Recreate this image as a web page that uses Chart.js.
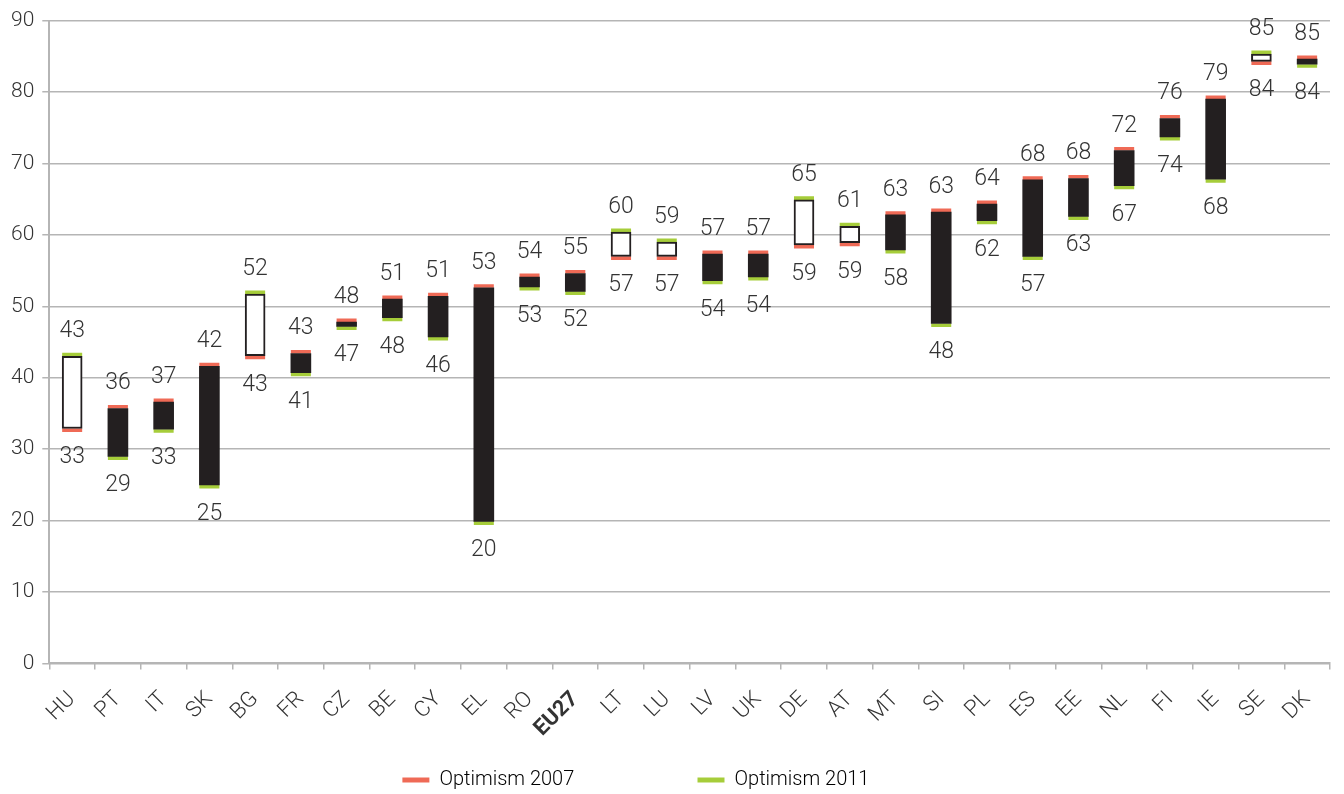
<!DOCTYPE html>
<html>
<head>
<meta charset="utf-8">
<script src="https://cdn.jsdelivr.net/npm/chart.js@4.4.0/dist/chart.umd.min.js"></script>
<style>
  html, body { margin: 0; padding: 0; background: #fff; }
  #wrap { width: 1344px; height: 794px; position: relative; }
</style>
</head>
<body>
<div id="wrap"><canvas id="myChart"></canvas></div>
<script>
// data
const countries = ["HU","PT","IT","SK","BG","FR","CZ","BE","CY","EL","RO","EU27","LT","LU",
                   "LV","UK","DE","AT","MT","SI","PL","ES","EE","NL","FI","IE","SE","DK"];
const optimism2007 = [32.9,35.7,36.6,41.6,43.1,43.4,47.8,51.0,51.4,52.6,54.1,54.6,57.0,57.0,
                      57.3,57.3,58.6,58.9,62.8,63.2,64.3,67.7,67.9,71.8,76.3,79.0,84.3,84.6];
const optimism2011 = [43.0,29.0,32.8,25.0,51.7,40.7,47.2,48.4,45.7,19.9,52.7,52.1,60.4,59.0,
                      53.6,54.1,64.9,61.2,57.9,47.6,62.0,57.0,62.6,66.9,73.7,67.8,85.3,83.9];
const yTicks = [0,10,20,30,40,50,60,70,80,90];
const seriesNames = ["Optimism 2007","Optimism 2011"];

const FONT = "Roboto";
const TEXT = "#333333";
const BLACK = "#231f20";
const RED = "#ef6a56";
const GREEN = "#a6cd3a";
const GRID = "#b5b5b5";
const MARK = 0.5; // marker thickness in value units

const ranges = optimism2007.map((v, i) => [Math.min(v, optimism2011[i]), Math.max(v, optimism2011[i])]);
const rising = optimism2007.map((v, i) => optimism2011[i] > v);

// marker sits just outside the bar edge its value belongs to
const markerRange = (vals, other) => vals.map((v, i) => v >= other[i] ? [v, v + MARK] : [v - MARK, v]);

const valueLabels = {
    id: "valueLabels",
    afterDatasetsDraw(chart) {
        const ctx = chart.ctx;
        const y = chart.scales.y;
        const meta = chart.getDatasetMeta(0);
        ctx.save();
        ctx.font = "300 23px " + FONT;
        ctx.fillStyle = TEXT;
        ctx.textAlign = "center";
        ctx.textBaseline = "alphabetic";
        meta.data.forEach((bar, i) => {
            const [lo, hi] = ranges[i];
            ctx.fillText(Math.round(hi), bar.x, y.getPixelForValue(hi) - 19);
            ctx.fillText(Math.round(lo), bar.x, y.getPixelForValue(lo) + 35);
        });
        ctx.restore();
    }
};

const ctx = document.getElementById("myChart").getContext("2d");
const myChart = new Chart(ctx, {
    type: "bar",
    data: {
        labels: countries,
        datasets: [{
            label: "range",
            data: ranges,
            backgroundColor: rising.map(r => r ? "#ffffff" : BLACK),
            borderColor: BLACK,
            borderWidth: rising.map(r => r ? 2 : 0),
            borderSkipped: false,
            barThickness: 20,
            grouped: false,
            order: 1
        }, {
            label: seriesNames[0],
            data: markerRange(optimism2007, optimism2011),
            backgroundColor: RED,
            borderWidth: 0,
            barThickness: 20,
            grouped: false,
            inflateAmount: 0,
            order: 2
        }, {
            label: seriesNames[1],
            data: markerRange(optimism2011, optimism2007),
            backgroundColor: GREEN,
            borderWidth: 0,
            barThickness: 20,
            grouped: false,
            inflateAmount: 0,
            order: 3
        }]
    },
    options: {
        responsive: true,
        maintainAspectRatio: false,
        animation: false,
        layout: { padding: { left: 3, right: 14, top: 12, bottom: -6 } },
        scales: {
            x: {
                grid: { drawOnChartArea: false, color: GRID, lineWidth: 1.5, tickLength: 6 },
                border: { color: GRID, width: 2 },
                ticks: {
                    color: TEXT,
                    maxRotation: 45,
                    minRotation: 45,
                    padding: 17,
                    font: c => ({
                        family: FONT,
                        size: 22,
                        weight: countries[c.index] === "EU27" ? "bold" : "300"
                    })
                }
            },
            y: {
                min: 0,
                max: 90,
                afterBuildTicks: axis => { axis.ticks = yTicks.map(v => ({ value: v })); },
                grid: { color: GRID, lineWidth: 1.5, tickLength: 7 },
                border: { color: GRID, width: 2 },
                ticks: { color: TEXT, padding: 8, font: { family: FONT, size: 21, weight: "300" } }
            }
        },
        plugins: {
            tooltip: { enabled: false },
            legend: {
                position: "bottom",
                labels: {
                    color: TEXT,
                    font: { family: FONT, size: 20, weight: "300" },
                    boxWidth: 27,
                    boxHeight: 5,
                    padding: 11,
                    generateLabels: () => [
                        { text: seriesNames[0] + "\u2003\u2003\u2003\u2003\u2003\u2002", fillStyle: RED, strokeStyle: RED, lineWidth: 0, datasetIndex: 1 },
                        { text: seriesNames[1] + "\u2003\u2003\u2003", fillStyle: GREEN, strokeStyle: GREEN, lineWidth: 0, datasetIndex: 2 }
                    ]
                }
            }
        }
    },
    plugins: [valueLabels]
});
</script>
</body>
</html>
